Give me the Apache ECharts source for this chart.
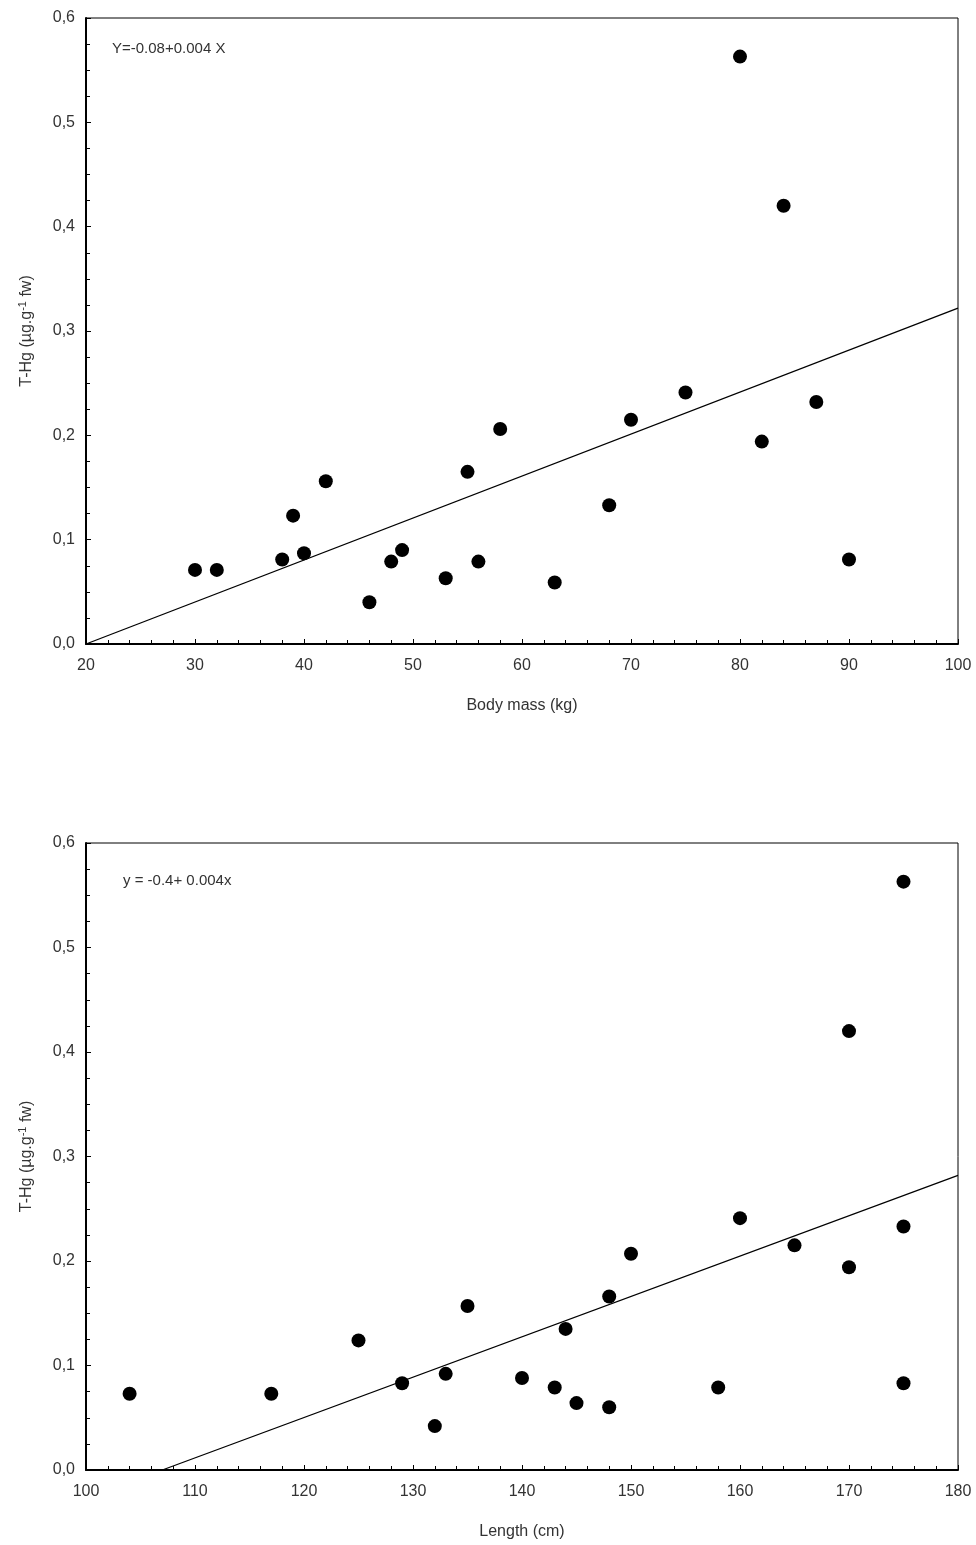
<!DOCTYPE html>
<html><head><meta charset="utf-8">
<script src="https://cdn.jsdelivr.net/npm/echarts@6/dist/echarts.min.js"></script>
<style>html,body{margin:0;padding:0;background:#fff}#c{width:976px;height:1545px}</style>
</head><body><div id="c"></div>
<script>
const massPoints=[[30,0.071],[32,0.071],[38,0.081],[39,0.123],[40,0.087],[42,0.156],[46,0.040],[48,0.079],[49,0.090],[53,0.063],[55,0.165],[56,0.079],[58,0.206],[63,0.059],[68,0.133],[70,0.215],[75,0.241],[80,0.563],[82,0.194],[84,0.420],[87,0.232],[90,0.081]];
const massLine=[[20,0.0],[100,0.322]];
const lengthPoints=[[104,0.073],[117,0.073],[125,0.124],[129,0.083],[132,0.042],[133,0.092],[135,0.157],[140,0.088],[143,0.079],[144,0.135],[145,0.064],[148,0.166],[148,0.060],[150,0.207],[158,0.079],[160,0.241],[165,0.215],[170,0.194],[170,0.420],[175,0.563],[175,0.233],[175,0.083]];
const lengthLine=[[107,0.0],[180,0.282]];
const eq1='Y=-0.08+0.004 X', eq2='y = -0.4+ 0.004x';
const ff='Liberation Sans, Arial, sans-serif';
const fmt=v=>v.toFixed(1).replace('.',',');
const axLine={lineStyle:{color:'#000',width:2}};
function xAx(i,min,max,name){return {gridIndex:i,type:'value',min,max,interval:10,name,nameLocation:'middle',nameGap:54,
 nameTextStyle:{color:'#333',fontSize:16,fontFamily:ff},axisLine:axLine,axisTick:{inside:true,lineStyle:{color:'#000'},length:5},
 minorTick:{show:true,splitNumber:5,length:4,lineStyle:{color:'#000'}},
 axisLabel:{color:'#333',fontSize:16,fontFamily:ff,margin:14},splitLine:{show:false}};}
function yAx(i){return {gridIndex:i,type:'value',min:0,max:0.6,interval:0.1,name:'{a|T-Hg (µg.g}{s|-1}{a| fw)}',nameLocation:'middle',nameGap:50,
 nameTextStyle:{rich:{a:{fontSize:16,color:'#333',fontFamily:ff},s:{fontSize:11,color:'#333',fontFamily:ff,verticalAlign:'top',padding:[0,0,8,0]}}},
 axisLine:axLine,axisTick:{inside:true,lineStyle:{color:'#000'},length:5},
 minorTick:{show:true,splitNumber:4,length:4,lineStyle:{color:'#000'}},
 axisLabel:{color:'#333',fontSize:16,fontFamily:ff,formatter:fmt,margin:11},splitLine:{show:false}};}
const opt={animation:false,
 title:[{text:eq1,left:107,top:36,textStyle:{fontSize:15,fontWeight:'normal',color:'#333',fontFamily:ff}},
        {text:eq2,left:118,top:868,textStyle:{fontSize:15,fontWeight:'normal',color:'#333',fontFamily:ff}}],
 grid:[{left:86,top:18,width:872,height:626,show:true,borderColor:'#000',borderWidth:1},
       {left:86,top:843,width:872,height:627,show:true,borderColor:'#000',borderWidth:1}],
 xAxis:[xAx(0,20,100,'Body mass (kg)'),xAx(1,100,180,'Length (cm)')],
 yAxis:[yAx(0),yAx(1)],
 series:[
  {type:'line',xAxisIndex:0,yAxisIndex:0,data:massLine,symbol:'none',lineStyle:{color:'#000',width:1.3}},
  {type:'scatter',xAxisIndex:0,yAxisIndex:0,data:massPoints,symbolSize:14,itemStyle:{color:'#000',opacity:1}},
  {type:'line',xAxisIndex:1,yAxisIndex:1,data:lengthLine,symbol:'none',lineStyle:{color:'#000',width:1.3}},
  {type:'scatter',xAxisIndex:1,yAxisIndex:1,data:lengthPoints,symbolSize:14,itemStyle:{color:'#000',opacity:1}}
 ]};
echarts.init(document.getElementById('c')).setOption(opt);
</script></body></html>
